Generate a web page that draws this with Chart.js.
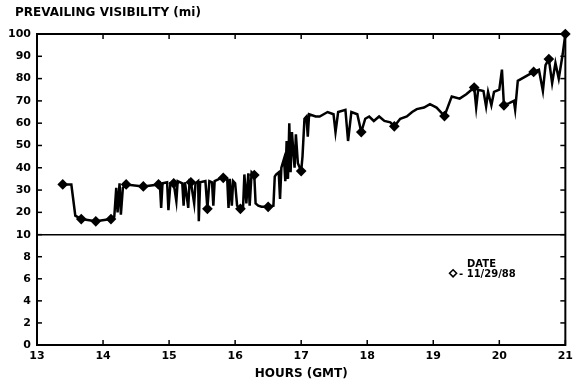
<!DOCTYPE html>
<html>
<head>
<meta charset="utf-8">
<script src="https://cdn.jsdelivr.net/npm/chart.js@4.4.1/dist/chart.umd.min.js"></script>
<style>
  html, body { margin: 0; padding: 0; background: #fff; }
</style>
</head>
<body>
<canvas id="visChart" width="578" height="383"></canvas>
<script>
// observation times (GMT hours) and prevailing visibility (mi)
const hours = [
  13.39, 13.52, 13.58, 13.67, 13.89, 14.12, 14.17, 14.2, 14.22, 14.25, 14.27, 14.3, 14.35, 14.61,
  14.84, 14.86, 14.88, 14.9, 14.97, 14.99, 15.02, 15.07, 15.11, 15.13, 15.2, 15.22, 15.24, 15.29,
  15.31, 15.33, 15.38, 15.4, 15.44, 15.45, 15.47, 15.55, 15.58, 15.61, 15.65, 15.67, 15.69, 15.76,
  15.82, 15.88, 15.9, 15.92, 15.95, 15.97, 16.0, 16.03, 16.08, 16.12, 16.14, 16.17, 16.2, 16.22,
  16.25, 16.29, 16.31, 16.35, 16.4, 16.5, 16.58, 16.6, 16.62, 16.66, 16.68, 16.7, 16.74, 16.76,
  16.78, 16.8, 16.82, 16.84, 16.86, 16.9, 16.92, 16.95, 17.0, 17.02, 17.05, 17.08, 17.1, 17.12,
  17.22, 17.28, 17.4, 17.49, 17.52, 17.56, 17.67, 17.71, 17.76, 17.85, 17.91, 17.97, 18.03, 18.1,
  18.18, 18.26, 18.35, 18.41, 18.5, 18.6, 18.68, 18.75, 18.86, 18.95, 19.05, 19.17, 19.28, 19.4,
  19.5, 19.62, 19.65, 19.68, 19.76, 19.8, 19.83, 19.88, 19.92, 20.0, 20.04, 20.07, 20.15, 20.22,
  20.24, 20.28, 20.4, 20.52, 20.6, 20.66, 20.7, 20.75, 20.8, 20.85, 20.9, 20.96, 21.0
];
const visibility = [
  32.5, 32.5, 18.5, 17, 16, 17, 18, 31, 20, 33, 19, 31, 32.5, 31.6,
  32.5, 33, 22, 33, 33.5, 21, 33, 33, 25, 34, 33, 23, 33.5, 22,
  34, 33.5, 24, 33, 34, 16, 33.5, 34, 21.6, 34, 33.5, 23, 34, 35,
  35.5, 35, 22, 35, 23, 34, 33, 23, 21.6, 22, 37, 24, 37.5, 23,
  37.9, 36.7, 24, 23, 22.5, 22.5, 23, 36, 37, 38, 26, 40, 44, 34,
  52, 35, 60, 38, 56, 40, 55, 42, 38.5, 45, 62, 63, 54, 64,
  63, 63, 65, 64, 56, 65, 66, 52, 65, 64, 56, 62, 63, 61,
  63, 61, 60.4, 58.6, 62, 63, 65, 66.3, 67, 68.5, 67, 63.2, 72, 71,
  73, 76, 67, 75, 74.4, 67.5, 74, 68, 74, 75, 84, 68, 69, 70,
  66, 79, 81, 83, 84, 74.4, 86, 88.75, 78, 87, 80, 91, 100
];
// observations drawn with a diamond
const diamondHours = [
  13.39, 13.67, 13.89, 14.12, 14.35, 14.61, 14.84, 15.07, 15.33, 15.58, 15.82, 16.08, 16.29, 16.5,
  17.0, 17.91, 18.41, 19.17, 19.62, 20.07, 20.52, 20.75, 21.0
];

const hourTicks = [13, 14, 15, 16, 17, 18, 19, 20, 21];
const upperTicks = [10, 20, 30, 40, 50, 60, 70, 80, 90, 100];
const lowerTicks = [0, 2, 4, 6, 8];
const chartTitle = 'PREVAILING VISIBILITY (mi)';
const dateLabel = '11/29/88';

const FONT = '"DejaVu Sans", sans-serif';
Chart.defaults.font.family = FONT;
Chart.defaults.font.weight = 'bold';
Chart.defaults.font.size = 11;
Chart.defaults.color = '#000';

// title, frame, inward ticks, 10-mile divider and date key
const framePlugin = {
  id: 'frame',
  afterDraw(chart) {
    const { ctx, chartArea: a, scales } = chart;
    const seg = (x1, y1, x2, y2) => {
      ctx.beginPath();
      ctx.moveTo(x1, y1);
      ctx.lineTo(x2, y2);
      ctx.stroke();
    };
    ctx.save();
    ctx.fillStyle = '#000';
    ctx.textBaseline = 'middle';
    ctx.textAlign = 'left';
    ctx.font = 'bold 12px ' + FONT;
    ctx.fillText(chartTitle, 15, 13);

    ctx.strokeStyle = '#000';
    ctx.lineWidth = 2;
    ctx.strokeRect(a.left, a.top, a.width, a.height);

    const ySplit = scales.upper.getPixelForValue(10);
    ctx.lineWidth = 1.5;
    seg(a.left, ySplit, a.right, ySplit);

    hourTicks.forEach(h => {
      const x = scales.x.getPixelForValue(h);
      seg(x, a.top, x, a.top + 5);
      seg(x, a.bottom, x, a.bottom - 5);
    });
    [[scales.upper, upperTicks], [scales.lower, lowerTicks]].forEach(([s, vals]) => {
      vals.forEach(v => {
        const y = s.getPixelForValue(v);
        seg(a.left, y, a.left + 5, y);
        seg(a.right, y, a.right - 5, y);
      });
    });

    // key
    const kx = scales.x.getPixelForValue(19.3);
    const ky = scales.lower.getPixelForValue(6.5);
    ctx.lineWidth = 1.6;
    ctx.beginPath();
    ctx.moveTo(kx, ky - 3.5);
    ctx.lineTo(kx + 3.5, ky);
    ctx.lineTo(kx, ky + 3.5);
    ctx.lineTo(kx - 3.5, ky);
    ctx.closePath();
    ctx.stroke();
    ctx.font = 'bold 10px ' + FONT;
    ctx.fillText('DATE', kx + 14, ky - 9);
    ctx.fillText('- ' + dateLabel, kx + 6, ky + 1);
    ctx.restore();
  }
};

new Chart(document.getElementById('visChart'), {
  type: 'line',
  data: {
    datasets: [{
      data: hours.map((h, i) => ({ x: h, y: visibility[i] })),
      yAxisID: 'upper',
      borderColor: '#000',
      backgroundColor: '#000',
      borderWidth: 2.5,
      tension: 0,
      clip: false,
      pointStyle: 'rectRot',
      pointRadius: c => diamondHours.includes(hours[c.dataIndex]) ? 3.6 : 0,
      pointHoverRadius: 0
    }]
  },
  options: {
    responsive: false,
    animation: false,
    events: [],
    layout: { padding: { left: 0, right: 8, top: 34, bottom: 0 } },
    plugins: {
      legend: { display: false },
      tooltip: { enabled: false },
      title: { display: false }
    },
    scales: {
      x: {
        type: 'linear',
        min: 13,
        max: 21,
        afterBuildTicks: s => { s.ticks = hourTicks.map(v => ({ value: v })); },
        afterFit: s => { s.height = 38; },
        grid: { display: false, drawTicks: false },
        border: { display: false },
        ticks: { padding: 5, autoSkip: false, maxRotation: 0 },
        title: {
          display: true,
          text: 'HOURS (GMT)',
          font: { size: 12, weight: 'bold' },
          padding: { top: 0, bottom: 2 }
        }
      },
      lower: {
        axis: 'y',
        type: 'linear',
        position: 'left',
        stack: 'vis',
        stackWeight: 110,
        min: 0,
        max: 10,
        afterBuildTicks: s => { s.ticks = lowerTicks.map(v => ({ value: v })); },
        afterFit: s => { s.width = 37; },
        grid: { display: false, drawTicks: false },
        border: { display: false },
        ticks: { padding: 6, autoSkip: false }
      },
      upper: {
        axis: 'y',
        type: 'linear',
        position: 'left',
        stack: 'vis',
        stackWeight: 200,
        min: 10,
        max: 100,
        afterBuildTicks: s => { s.ticks = upperTicks.map(v => ({ value: v })); },
        afterFit: s => { s.width = 37; },
        grid: { display: false, drawTicks: false },
        border: { display: false },
        ticks: { padding: 6, autoSkip: false }
      }
    }
  },
  plugins: [framePlugin]
});
</script>
</body>
</html>
